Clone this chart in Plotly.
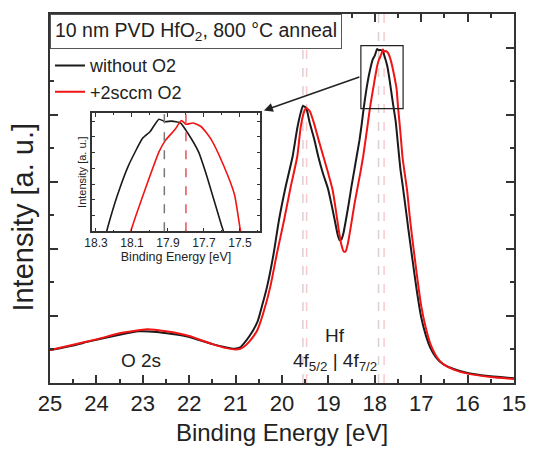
import plotly.graph_objects as go

# ---------------- data ----------------
black_E = [25.0, 24.5, 24.15, 23.5, 23.09, 22.7, 22.02, 21.5, 21.2, 21.03, 20.9, 20.82, 20.7, 20.53,
           20.43, 20.32, 20.18, 20.07, 19.93, 19.77, 19.67, 19.6, 19.55, 19.48, 19.40, 19.30, 19.22,
           19.12, 19.01, 18.92, 18.85, 18.80, 18.76, 18.72, 18.68, 18.62, 18.56, 18.51, 18.45, 18.39, 18.33,
           18.28, 18.235, 18.18, 18.12, 18.04, 18.0, 17.95, 17.915, 17.88, 17.83, 17.79, 17.73, 17.68,
           17.605, 17.55, 17.5, 17.45, 17.4, 17.33, 17.28, 17.2, 17.1, 17.0, 16.9, 16.8, 16.7, 16.6,
           16.5, 16.3, 16.0, 15.5, 15.0]
black_I = [0.49, 0.56, 0.62, 0.72, 0.77, 0.76, 0.69, 0.58, 0.53, 0.51, 0.53, 0.59, 0.70, 0.91,
           1.15, 1.44, 1.93, 2.41, 2.90, 3.38, 3.80, 4.02, 4.13, 4.10, 3.87, 3.62, 3.38,
           3.13, 2.90, 2.62, 2.38, 2.21, 2.13, 2.14, 2.22, 2.44, 2.68, 2.90, 3.14, 3.38, 3.62,
           3.87, 4.12, 4.38, 4.61, 4.83, 4.88, 4.98, 4.96, 4.965, 4.95, 4.87, 4.72, 4.51,
           4.15, 3.90, 3.55, 3.20, 2.95, 2.58, 2.31, 1.90, 1.40, 0.98, 0.71, 0.52, 0.40, 0.32,
           0.27, 0.21, 0.15, 0.10, 0.07]

red_E = [25.0, 24.5, 24.0, 23.5, 22.9, 22.5, 22.0, 21.5, 21.2, 21.0, 20.9, 20.82, 20.7, 20.53,
         20.4, 20.25, 20.11, 19.96, 19.82, 19.67, 19.60, 19.53, 19.48, 19.40, 19.31, 19.21,
         19.11, 19.01, 18.91, 18.84, 18.77, 18.72, 18.67, 18.63, 18.58, 18.51, 18.44, 18.37, 18.31,
         18.25, 18.2, 18.15, 18.10, 18.025, 17.95, 17.915, 17.86, 17.825, 17.80, 17.76, 17.715,
         17.66, 17.59, 17.53, 17.50, 17.45, 17.4, 17.35, 17.3, 17.25, 17.2, 17.1, 17.0, 16.9,
         16.8, 16.7, 16.6, 16.5, 16.3, 16.0, 15.5, 15.0]
red_I = [0.49, 0.57, 0.65, 0.74, 0.80, 0.77, 0.70, 0.58, 0.52, 0.50, 0.51, 0.54, 0.62, 0.79,
         1.05, 1.44, 1.93, 2.41, 2.90, 3.38, 3.80, 4.03, 4.10, 4.05, 3.87, 3.62,
         3.38, 3.14, 2.88, 2.58, 2.25, 2.06, 1.96, 1.96, 2.08, 2.36, 2.66, 2.92, 3.14,
         3.38, 3.62, 3.87, 4.12, 4.43, 4.72, 4.81, 4.90, 4.97, 4.94, 4.95, 4.92,
         4.82, 4.61, 4.38, 4.12, 3.75, 3.35, 3.10, 2.85, 2.50, 2.20, 1.65, 1.15, 0.82,
         0.58, 0.43, 0.33, 0.27, 0.20, 0.14, 0.09, 0.06]

series_names = ["without O2", "+2sccm O2"]
series_colors = ["#1a1a1a", "#f01414"]

peak_black = [19.55, 17.92]
peak_red = [19.47, 17.80]

x_ticks = [25, 24, 23, 22, 21, 20, 19, 18, 17, 16, 15]
inset_ticks = [18.3, 18.1, 17.9, 17.7, 17.5]
zoom_box = dict(x0=18.30, x1=17.39, y0=4.09, y1=5.03)

FONT = "Liberation Sans, Arial, sans-serif"
AX = "#333333"

fig = go.Figure()

for E, I, name, col in [(black_E, black_I, series_names[0], series_colors[0]),
                        (red_E, red_I, series_names[1], series_colors[1])]:
    fig.add_trace(go.Scatter(x=E, y=I, mode="lines", name=name,
                             line=dict(color=col, width=2, shape="spline", smoothing=0.5),
                             xaxis="x", yaxis="y"))
for E, I, name, col in [(black_E, black_I, series_names[0], series_colors[0]),
                        (red_E, red_I, series_names[1], series_colors[1])]:
    fig.add_trace(go.Scatter(x=E, y=I, mode="lines", name=name, showlegend=False,
                             line=dict(color=col, width=1.6, shape="spline", smoothing=0.5),
                             xaxis="x2", yaxis="y2"))

shapes = []
for e in peak_black:
    shapes.append(dict(type="line", xref="x", yref="paper", x0=e, x1=e, y0=0, y1=1,
                       line=dict(color="rgba(190,160,165,0.5)", width=1.5, dash="dash"), layer="below"))
for e in peak_red:
    shapes.append(dict(type="line", xref="x", yref="paper", x0=e, x1=e, y0=0, y1=1,
                       line=dict(color="rgba(240,120,130,0.4)", width=1.5, dash="dash"), layer="below"))
# inset dashed markers
shapes.append(dict(type="line", xref="x2", yref="y2 domain", x0=peak_black[1], x1=peak_black[1], y0=0, y1=1,
                   line=dict(color="#777777", width=1.5, dash="dash")))
shapes.append(dict(type="line", xref="x2", yref="y2 domain", x0=peak_red[1], x1=peak_red[1], y0=0, y1=1,
                   line=dict(color="#e8505a", width=1.5, dash="dash")))
# zoom rectangle
shapes.append(dict(type="rect", xref="x", yref="y", line=dict(color="#222222", width=1.2), **zoom_box))

annotations = [
    dict(text="10 nm PVD HfO<sub>2</sub>, 800 °C anneal", xref="paper", yref="paper", x=0, y=1,
         xanchor="left", yanchor="top", showarrow=False, font=dict(size=19.5, color="#222", family=FONT),
         bgcolor="white", bordercolor="#555", borderwidth=1, borderpad=4),
    dict(text="Intensity [a. u.]", xref="paper", yref="paper", x=-0.059, y=0.45, textangle=-90,
         xanchor="center", yanchor="middle", showarrow=False,
         font=dict(size=29, color="#222", family=FONT)),
    dict(text="O 2s", xref="x", yref="y", x=23.04, y=0.33, showarrow=False,
         font=dict(size=19, color="#222", family=FONT)),
    dict(text="Hf", xref="x", yref="y", x=18.85, y=0.71, showarrow=False,
         font=dict(size=19, color="#222", family=FONT)),
    dict(text="4f<sub>5/2</sub> | 4f<sub>7/2</sub>", xref="x", yref="y", x=18.85, y=0.31, showarrow=False,
         font=dict(size=19, color="#222", family=FONT)),
    dict(text="", xref="x", yref="y", x=20.39, y=4.06, axref="x", ayref="y", ax=18.30, ay=4.57,
         showarrow=True, arrowhead=2, arrowsize=1.2, arrowwidth=1.5, arrowcolor="#222"),
]

fig.update_layout(
    width=538, height=454,
    margin=dict(l=50, r=17, t=12, b=65),
    paper_bgcolor="white", plot_bgcolor="white",
    font=dict(family=FONT, color="#222"),
    showlegend=True,
    legend=dict(x=0.0, y=0.91, xanchor="left", yanchor="top", bgcolor="rgba(0,0,0,0)",
                font=dict(size=18, family=FONT, color="#222"), tracegroupgap=0),
    xaxis=dict(range=[25, 15], tickvals=x_ticks, ticks="inside", ticklen=8, tickwidth=2, tickcolor=AX,
               minor=dict(dtick=0.5, ticks="inside", ticklen=4, tickwidth=1.5, tickcolor=AX),
               showline=True, linecolor=AX, linewidth=2, mirror="allticks", showgrid=False, zeroline=False,
               tickfont=dict(size=22, family=FONT, color="#222"),
               title=dict(text="Binding Energy [eV]", font=dict(size=24, family=FONT, color="#222"), standoff=9)),
    yaxis=dict(range=[0, 5.5], dtick=1, tick0=0, ticks="inside", ticklen=8, tickwidth=2, tickcolor=AX,
               minor=dict(dtick=0.5, ticks="inside", ticklen=4, tickwidth=1.5, tickcolor=AX),
               showline=True, linecolor=AX, linewidth=2, mirror="allticks", showgrid=False, zeroline=False,
               showticklabels=False),
    xaxis2=dict(domain=[0.0913, 0.452], anchor="y2", range=[18.32, 17.39], tickvals=inset_ticks,
                ticks="inside", ticklen=4, tickwidth=1, tickcolor=AX,
                minor=dict(dtick=0.1, ticks="inside", ticklen=2, tickwidth=1, tickcolor=AX),
                showline=True, linecolor=AX, linewidth=1.5, mirror="allticks", showgrid=False, zeroline=False,
                tickfont=dict(size=12, family=FONT, color="#222"),
                title=dict(text="Binding Energy [eV]", font=dict(size=12.5, family=FONT, color="#222"), standoff=1)),
    yaxis2=dict(domain=[0.411, 0.732], anchor="x2", range=[4.09, 5.03], dtick=0.125, tick0=4.09,
                ticks="inside", ticklen=3, tickwidth=1, tickcolor=AX,
                showline=True, linecolor=AX, linewidth=1.5, mirror="allticks", showgrid=False, zeroline=False,
                showticklabels=False,
                title=dict(text="Intensity [a. u.]", font=dict(size=11, family=FONT, color="#222"), standoff=2)),
    shapes=shapes,
    annotations=annotations,
)

fig.write_html("out.html")
